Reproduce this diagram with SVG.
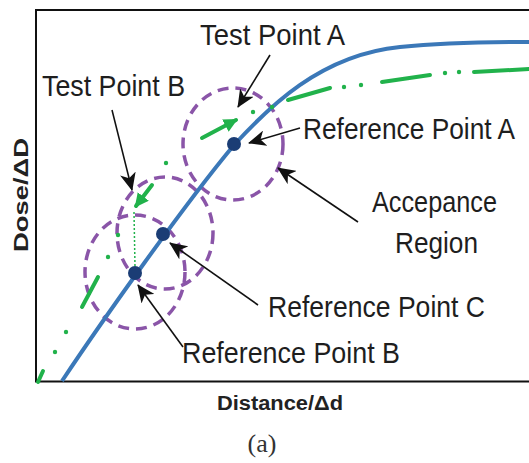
<svg xmlns="http://www.w3.org/2000/svg" width="529" height="463" viewBox="0 0 529 463">
<style>
.lbl{font-family:"Liberation Sans",Arial,sans-serif;font-size:30px;fill:#1e1e1e;}
.ax{font-family:"Liberation Sans",Arial,sans-serif;font-size:20px;font-weight:bold;fill:#222;}
.cap{font-family:"Liberation Serif","Times New Roman",serif;font-size:26px;fill:#333;}
.frame{stroke:#111;stroke-width:2;fill:none;}
.region{fill:none;stroke:#8a55a8;stroke-width:3.5;stroke-dasharray:11 7;}
.gd{stroke:#21b24b;stroke-width:4;stroke-linecap:round;fill:none;}
.gdot{fill:#21b24b;}
.ref{fill:#1b3d75;}
.arr{stroke:#111;stroke-width:1.6;fill:none;marker-end:url(#ah);}
</style>
<defs>
<marker id="ah" markerUnits="userSpaceOnUse" markerWidth="20" markerHeight="16" refX="17" refY="8" orient="auto" viewBox="0 0 20 16">
<path d="M0,0 L18,8 L0,16 L5,8 z" fill="#111"/>
</marker>
<marker id="gh" markerUnits="userSpaceOnUse" markerWidth="16" markerHeight="14" refX="12" refY="7" orient="auto" viewBox="0 0 16 14">
<path d="M0,0 L14,7 L0,14 z" fill="#21b24b"/>
</marker>
</defs>
<rect width="529" height="463" fill="#fff"/>
<g id="axes">
<path class="frame" d="M529,10 L36,10 L36,381.5 L529,381.5"/>
<text class="ax" x="217" y="410" textLength="126" lengthAdjust="spacingAndGlyphs">Distance/Δd</text>
<text class="ax" transform="translate(28,252) rotate(-90)" x="0" y="0" textLength="114" lengthAdjust="spacingAndGlyphs">Dose/ΔD</text>
<text class="cap" x="262" y="452" text-anchor="middle">(a)</text>
</g>
<g id="regions">
<ellipse class="region" cx="233" cy="144" rx="50" ry="56"/>
<ellipse class="region" cx="165" cy="233" rx="48" ry="56"/>
<ellipse class="region" cx="135" cy="272" rx="50" ry="57"/>
</g>
<g id="reference-curve">
<path d="M62,381 C102,321 184,205 234,145 C268,108 320,55 400,47 C440,43 480,42 529,42" fill="none" stroke="#3b78b8" stroke-width="4"/>
</g>
<g id="test-curve">
<line class="gd" x1="38" y1="382" x2="43" y2="371"/>
<circle class="gdot" cx="55" cy="352" r="2.2"/>
<circle class="gdot" cx="66" cy="332" r="2.2"/>
<line class="gd" x1="82" y1="307" x2="98" y2="277"/>
<circle class="gdot" cx="108" cy="257" r="2.2"/>
<circle class="gdot" cx="118" cy="235" r="2.2"/>
<line class="gd" x1="152" y1="185" x2="136" y2="206" marker-end="url(#gh)"/>
<circle class="gdot" cx="166" cy="163" r="2.2"/>
<line class="gd" x1="202" y1="138" x2="236" y2="120" marker-end="url(#gh)"/>
<circle class="gdot" cx="253" cy="112" r="2.2"/>
<circle class="gdot" cx="272" cy="107" r="2.2"/>
<line class="gd" x1="288" y1="100" x2="330" y2="88"/>
<circle class="gdot" cx="344" cy="87" r="2.2"/>
<circle class="gdot" cx="361" cy="85" r="2.2"/>
<line class="gd" x1="382" y1="82" x2="430" y2="75"/>
<circle class="gdot" cx="445" cy="73" r="2.2"/>
<circle class="gdot" cx="459" cy="72" r="2.2"/>
<line class="gd" x1="474" y1="72" x2="529" y2="69"/>
<line x1="134" y1="212" x2="135" y2="267" stroke="#21b24b" stroke-width="1.5" stroke-dasharray="2 2"/>
</g>
<g id="ref-point-a"><circle class="ref" cx="234" cy="144" r="7"/></g>
<g id="ref-point-c"><circle class="ref" cx="163" cy="234" r="7"/></g>
<g id="ref-point-b"><circle class="ref" cx="135" cy="273" r="7"/></g>
<g id="connectors">
<line class="arr" x1="270" y1="55" x2="238" y2="107"/>
<line class="arr" x1="112" y1="110" x2="132" y2="190"/>
<line class="arr" x1="300" y1="128" x2="249" y2="143"/>
<line class="arr" x1="358" y1="222" x2="278" y2="168"/>
<line class="arr" x1="258" y1="305" x2="170" y2="243"/>
<line class="arr" x1="183" y1="347" x2="138" y2="285"/>
</g>
<g id="label-test-a"><text class="lbl" x="200" y="45" textLength="145" lengthAdjust="spacingAndGlyphs">Test Point A</text></g>
<g id="label-test-b"><text class="lbl" x="42" y="96" textLength="143" lengthAdjust="spacingAndGlyphs">Test Point B</text></g>
<g id="label-ref-a"><text class="lbl" transform="translate(303,139) scale(1,1.11)" x="0" y="0" style="font-size:27px" textLength="212" lengthAdjust="spacingAndGlyphs">Reference Point A</text></g>
<g id="label-region"><text class="lbl" x="372" y="212" textLength="125" lengthAdjust="spacingAndGlyphs">Accepance</text><text class="lbl" x="395" y="253" textLength="83" lengthAdjust="spacingAndGlyphs">Region</text></g>
<g id="label-ref-c"><text class="lbl" x="268" y="317" textLength="217" lengthAdjust="spacingAndGlyphs">Reference Point C</text></g>
<g id="label-ref-b"><text class="lbl" x="182" y="363" textLength="218" lengthAdjust="spacingAndGlyphs">Reference Point B</text></g>
</svg>
